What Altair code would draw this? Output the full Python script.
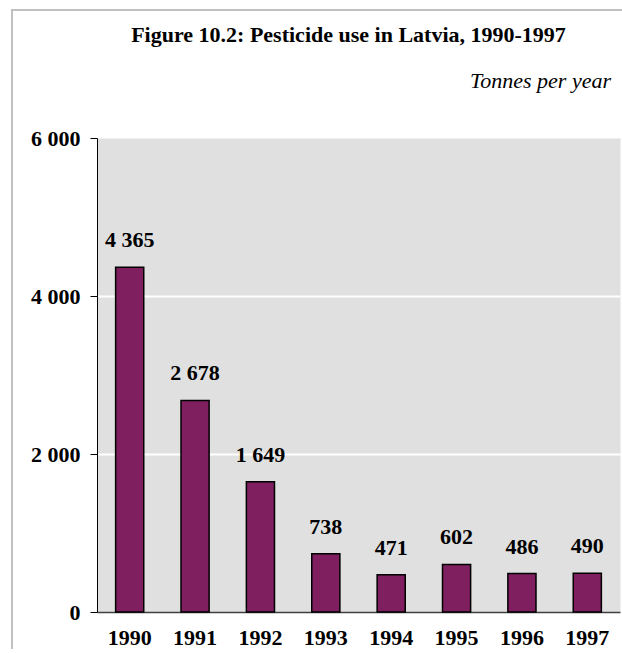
import altair as alt
import pandas as pd

# Pesticide use in Latvia, tonnes per year
years = ["1990", "1991", "1992", "1993", "1994", "1995", "1996", "1997"]
tonnes = [4365, 2678, 1649, 738, 471, 602, 486, 490]

FONT = "Liberation Serif"
BAR = "#7f1f5f"

df = pd.DataFrame({"year": years, "tonnes": tonnes})
base = alt.Chart(df)

space_sep = "replace(format(datum.value, ','), ',', ' ')"

x_enc = alt.X(
    "year:N",
    sort=years,
    scale=alt.Scale(paddingInner=0.57, paddingOuter=0.285),
    axis=alt.Axis(
        title=None, labelAngle=0, ticks=False, grid=False,
        domainColor="#404040", domainWidth=1.5,
        labelPadding=15, labelFont=FONT, labelFontSize=22,
        labelFontWeight="bold", labelColor="black",
    ),
)
y_enc = alt.Y(
    "tonnes:Q",
    scale=alt.Scale(domain=[0, 6000], nice=False),
    axis=alt.Axis(
        title=None, values=[0, 2000, 4000, 6000], labelExpr=space_sep,
        tickSize=7, tickColor="black", domainColor="black", domainWidth=1,
        labelPadding=10, labelFont=FONT, labelFontSize=22,
        labelFontWeight="bold", labelColor="black",
        grid=True, gridColor="white", gridWidth=2,
        gridOpacity={"condition": {"test": "datum.value == 0 || datum.value == 6000", "value": 0}, "value": 1},
    ),
)

bars = base.mark_bar(color=BAR, stroke="black", strokeWidth=1.5).encode(x=x_enc, y=y_enc)

labels = base.transform_calculate(
    label="replace(format(datum.tonnes, ','), ',', ' ')"
).mark_text(
    dy=-20, baseline="alphabetic", font=FONT, fontSize=22,
    fontWeight="bold", color="black",
).encode(x=x_enc, y=y_enc, text="label:N")

unit = alt.Chart(pd.DataFrame({"t": ["Tonnes per year"]})).mark_text(
    align="right", baseline="alphabetic", font=FONT, fontSize=22,
    fontStyle="italic", color="black",
).encode(x=alt.value(514), y=alt.value(-50), text="t:N")

# light grey border around the figure, running off the right and bottom edges
frame = alt.Chart(pd.DataFrame({"k": [0]})).mark_rect(
    fill="transparent", stroke="#c0c0c0", strokeWidth=2,
).encode(x=alt.value(-85), x2=alt.value(527), y=alt.value(-128), y2=alt.value(518))

chart = alt.layer(frame, bars, labels, unit).properties(
    width=523,
    height=474,
    autosize=alt.AutoSizeParams(type="none"),
    padding={"left": 97, "top": 138, "right": 2, "bottom": 37},
    background="white",
    title=alt.TitleParams(
        "Figure 10.2: Pesticide use in Latvia, 1990-1997",
        font=FONT, fontSize=22, fontWeight="bold", color="black",
        anchor="middle", frame="group", dx=-10, baseline="alphabetic",
        offset=-55,
    ),
).configure_view(fill="#e0e0e0", strokeOpacity=0)

chart.save("out.html", embed_options={"renderer": "svg", "actions": False})
